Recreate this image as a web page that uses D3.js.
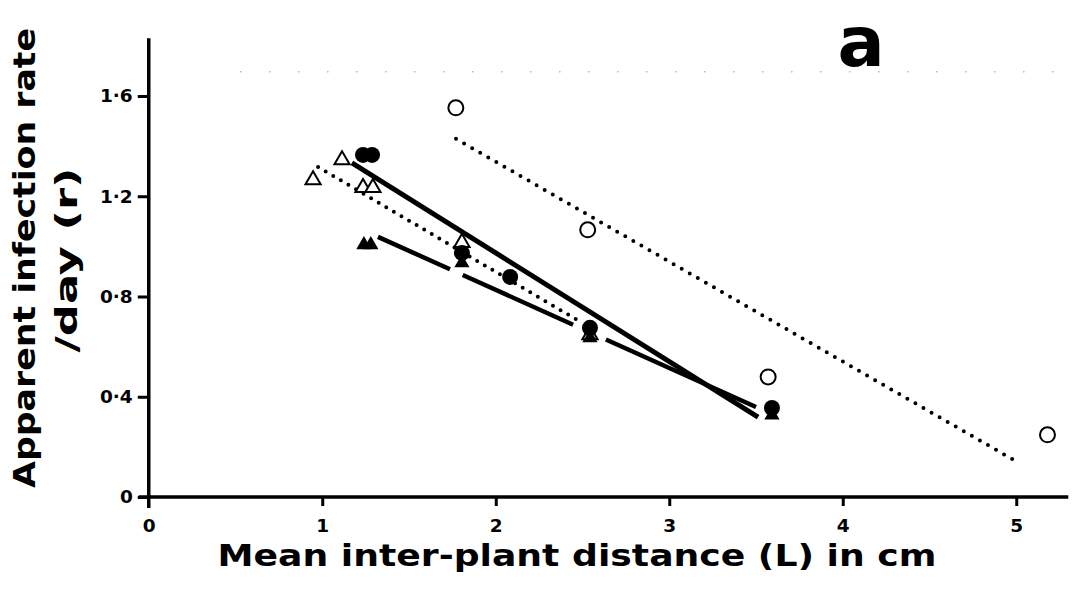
<!DOCTYPE html>
<html>
<head>
<meta charset="utf-8">
<script src="https://cdn.jsdelivr.net/npm/d3@7"></script>
<style>
  html, body { margin: 0; padding: 0; background: #fff; }
  svg { display: block; }
  text { font-family: "DejaVu Sans", "Liberation Sans", sans-serif; font-weight: bold; fill: #000; }
</style>
</head>
<body>
<svg id="chart" width="1076" height="596"></svg>
<script>
// ---- data (x = mean inter-plant distance L in cm, y = apparent infection rate r /day)
const openCircles     = [[1.77, 1.553], [2.53, 1.066], [3.57, 0.479], [5.18, 0.248]];
const filledCircles   = [[1.235, 1.365], [1.287, 1.365], [1.805, 0.974], [2.083, 0.878], [2.543, 0.675], [3.592, 0.355]];
const openTriangles   = [[0.947, 1.265], [1.114, 1.345], [1.235, 1.234], [1.292, 1.234], [1.805, 1.015], [2.543, 0.647]];
const filledTriangles = [[1.24, 1.006], [1.28, 1.006], [1.805, 0.934], [2.543, 0.635], [3.592, 0.327]];

// fitted lines (end points)
const lineOpenCircles     = [[1.771, 1.429], [5.005, 0.140]];   // dotted
const lineFilledCircles   = [[1.171, 1.333], [3.512, 0.319]];   // solid
const lineFilledTriangles = [[1.321, 1.038], [3.500, 0.359]];   // long dash
const lineOpenTriangles   = [[0.976, 1.317], [2.468, 0.707]];   // dotted

const xTicks = [0, 1, 2, 3, 4, 5];
const yTicks = [0, 0.4, 0.8, 1.2, 1.6];
const panelLabel = "a";
const xTitle = "Mean inter-plant distance (L) in cm";
const yTitle1 = "Apparent infection rate";
const yTitle2 = "/day  (r)";

// ---- scales
const svg = d3.select("#chart");
const x = d3.scaleLinear().domain([0, 5]).range([148.75, 1016.25]);
const y = d3.scaleLinear().domain([0, 1.6]).range([497, 96]);
const xMax = 5.3, yMax = 1.83;

// faint scan dotted line near top
svg.append("line")
  .attr("x1", 240).attr("x2", 1076)
  .attr("y1", y(1.697)).attr("y2", y(1.697))
  .attr("stroke", "#bbb").attr("stroke-width", 1.5)
  .attr("stroke-dasharray", "1.5 27.5");

// ---- axes
const fmt = v => v === 0 ? "0" : d3.format(".1f")(v).replace(".", "·");

const gx = svg.append("g").attr("transform", `translate(0,${y(0)})`)
  .call(d3.axisBottom(x).tickValues(xTicks).tickSize(9).tickPadding(13).tickFormat(d3.format("d")));
const gy = svg.append("g").attr("transform", `translate(${x(0)},0)`)
  .call(d3.axisLeft(y).tickValues(yTicks).tickSize(11).tickPadding(5).tickFormat(fmt));

[gx, gy].forEach(g => {
  g.select(".domain").remove();
  g.selectAll(".tick line").attr("stroke", "#000").attr("stroke-width", 3);
  g.selectAll(".tick text").style("font-size", "18.5px").style("font-weight", "bold")
    .attr("font-family", "DejaVu Sans");
});
gx.select(".tick line").remove();  // origin tick handled by y axis line

// axis lines
svg.append("line").attr("x1", x(0) - 10).attr("x2", x(xMax))
  .attr("y1", y(0)).attr("y2", y(0)).attr("stroke", "#000").attr("stroke-width", 3.5);
svg.append("line").attr("x1", x(0)).attr("x2", x(0))
  .attr("y1", y(0) + 11).attr("y2", y(yMax)).attr("stroke", "#000").attr("stroke-width", 3.5);

// ---- fitted lines
const lineGen = d3.line().x(d => x(d[0])).y(d => y(d[1]));

svg.append("path").datum(lineOpenCircles).attr("d", lineGen)
  .attr("fill", "none").attr("stroke", "#000").attr("stroke-width", 4)
  .attr("stroke-linecap", "round").attr("stroke-dasharray", "0 9.3");

svg.append("path").datum(lineOpenTriangles).attr("d", lineGen)
  .attr("fill", "none").attr("stroke", "#000").attr("stroke-width", 4)
  .attr("stroke-linecap", "round").attr("stroke-dasharray", "0 8.8");

svg.append("path").datum(lineFilledCircles).attr("d", lineGen)
  .attr("fill", "none").attr("stroke", "#000").attr("stroke-width", 5);

svg.append("path").datum(lineFilledTriangles).attr("d", lineGen)
  .attr("fill", "none").attr("stroke", "#000").attr("stroke-width", 4.5)
  .attr("stroke-dasharray", "79 14 121 36 200");

// ---- markers
const tri = d3.symbol().type(d3.symbolTriangle).size(100);

svg.append("g").selectAll("path").data(openTriangles).join("path")
  .attr("d", tri).attr("transform", d => `translate(${x(d[0])},${y(d[1])})`)
  .attr("fill", "#fff").attr("stroke", "#000").attr("stroke-width", 2);

svg.append("g").selectAll("path").data(filledTriangles).join("path")
  .attr("d", tri).attr("transform", d => `translate(${x(d[0])},${y(d[1])})`)
  .attr("fill", "#000");

svg.append("g").selectAll("circle").data(filledCircles).join("circle")
  .attr("cx", d => x(d[0])).attr("cy", d => y(d[1])).attr("r", 8).attr("fill", "#000");

svg.append("g").selectAll("circle").data(openCircles).join("circle")
  .attr("cx", d => x(d[0])).attr("cy", d => y(d[1])).attr("r", 7.5)
  .attr("fill", "#fff").attr("stroke", "#000").attr("stroke-width", 2);

// ---- titles
svg.append("text").attr("x", 577).attr("y", 566).attr("text-anchor", "middle")
  .style("font-size", "31px").attr("textLength", 719).attr("lengthAdjust", "spacingAndGlyphs")
  .text(xTitle);

svg.append("text").attr("transform", "translate(35,258) rotate(-90)").attr("text-anchor", "middle")
  .style("font-size", "30px").attr("textLength", 460).attr("lengthAdjust", "spacingAndGlyphs")
  .text(yTitle1);
svg.append("text").attr("transform", "translate(77,260) rotate(-90)").attr("text-anchor", "middle")
  .style("font-size", "30px").attr("textLength", 185).attr("lengthAdjust", "spacingAndGlyphs")
  .text(yTitle2);

svg.append("text").attr("x", 861).attr("y", 66).attr("text-anchor", "middle")
  .style("font-size", "70px").style("font-weight", "900").attr("font-family", "DejaVu Sans")
  .text(panelLabel);
</script>
</body>
</html>
